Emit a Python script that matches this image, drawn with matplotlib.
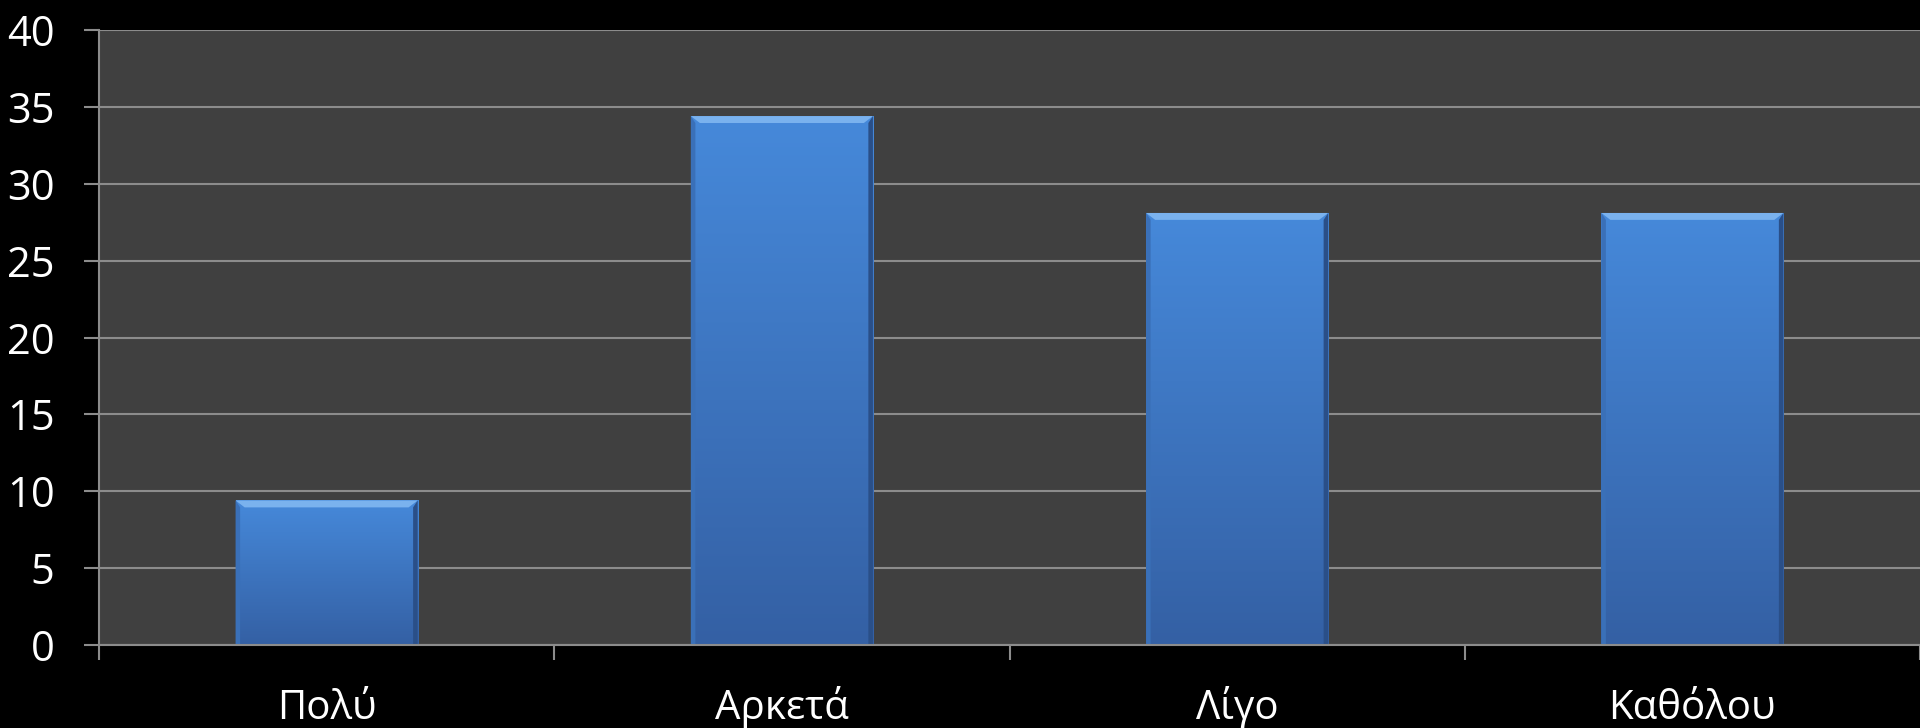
import numpy as np
import matplotlib
matplotlib.use("Agg")
import matplotlib.pyplot as plt
from matplotlib.colors import LinearSegmentedColormap
from matplotlib.transforms import blended_transform_factory

plt.rcParams['font.family'] = ['Open Sans', 'DejaVu Sans']

# data
categories = ["Πολύ", "Αρκετά", "Λίγο", "Καθόλου"]
values = [9.4, 34.4, 28.1, 28.1]
y_ticks = [0, 5, 10, 15, 20, 25, 30, 35, 40]

fig = plt.figure(figsize=(19.2, 7.28), dpi=100, facecolor="black")
ax = fig.add_axes([99 / 1920, 1 - 645 / 728, 1 - 99 / 1920, (645 - 30) / 728])
ax.set_facecolor("#404040")

x = np.arange(len(categories))
bar_w = 0.4
bars = ax.bar(x, values, width=bar_w, color="#3f7ccc", zorder=3, linewidth=0)

# vertical gradient inside each bar, plus a light bevel on top
grad = LinearSegmentedColormap.from_list("barblue", ["#3460a4", "#4689da"])
g = np.linspace(0, 1, 256).reshape(-1, 1)
for b, v in zip(bars, values):
    x0 = b.get_x()
    im = ax.imshow(g, cmap=grad, aspect="auto", origin="lower",
                   extent=[x0, x0 + bar_w, 0, v], zorder=4)
    im.set_clip_path(b)
    # top bevel strip
    ax.fill([x0, x0 + bar_w, x0 + bar_w - 0.02, x0 + 0.02],
            [v, v, v - 0.45, v - 0.45], color="#7ab2ee", zorder=5, lw=0)
    # darker right edge, lighter left edge
    ax.fill([x0 + bar_w, x0 + bar_w, x0 + bar_w - 0.01, x0 + bar_w - 0.01],
            [0, v, v - 0.45, 0], color="#2a4f88", zorder=5, lw=0)
    ax.fill([x0, x0, x0 + 0.01, x0 + 0.01],
            [0, v, v - 0.45, 0], color="#3a70b8", zorder=5, lw=0)

ax.set_xlim(-0.5, len(categories) - 0.5)
ax.set_ylim(0, 40)
ax.set_yticks(y_ticks)
ax.set_yticklabels([str(t) for t in y_ticks])
ax.yaxis.grid(True, color="#8c8c8c", linewidth=1.5, zorder=1)
ax.set_axisbelow(True)

# ticks at the category boundaries, labels placed on a common baseline
ax.set_xticks(np.arange(-0.5, len(categories)))
ax.set_xticklabels([])
ax.tick_params(axis="x", length=11, width=1.5, color="#8c8c8c", direction="out")
ax.tick_params(axis="y", length=11, width=1.5, color="#8c8c8c", direction="out",
               pad=21, labelsize=30, labelcolor="white")
trans = blended_transform_factory(ax.transData, ax.transAxes)
for xi, name in zip(x, categories):
    ax.text(xi, (645 - 719) / 615, name, transform=trans, ha="center", va="baseline",
            fontsize=29, color="white", clip_on=False)

for s in ["top", "right"]:
    ax.spines[s].set_visible(False)
for s in ["left", "bottom"]:
    ax.spines[s].set_color("#8c8c8c")
    ax.spines[s].set_linewidth(1.5)
    ax.spines[s].set_zorder(6)

fig.savefig("out.png", dpi=100, facecolor="black")
